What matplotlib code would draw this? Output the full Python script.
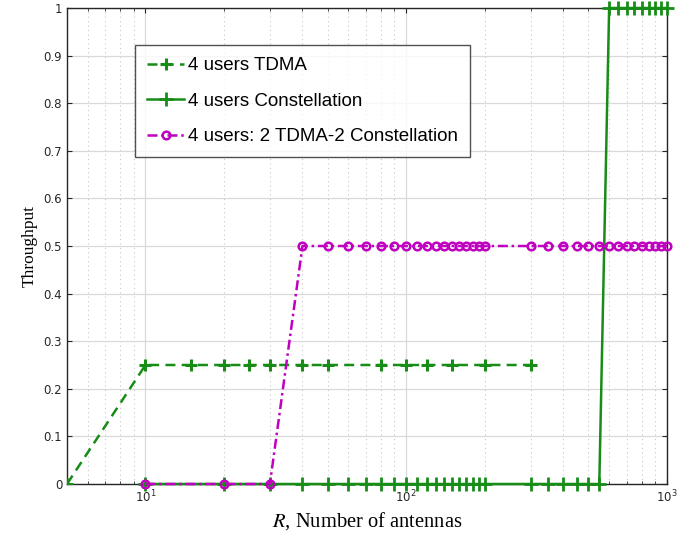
import numpy as np
import matplotlib
matplotlib.use("Agg")
import matplotlib.pyplot as plt
from matplotlib.ticker import LogLocator, NullFormatter

plt.rcParams['mathtext.fontset'] = 'stix'

# Data
tdma_x = [5, 10, 15, 20, 25, 30, 40, 50, 80, 100, 120, 150, 200, 300]
tdma_y = [0, 0.25, 0.25, 0.25, 0.25, 0.25, 0.25, 0.25, 0.25, 0.25, 0.25, 0.25, 0.25, 0.25]

const_x = [10, 20, 30, 40, 50, 60, 70, 80, 90, 100, 110, 120, 130, 140, 150, 160, 170, 180, 190, 200,
           300, 350, 400, 450, 500, 550, 600, 650, 700, 750, 800, 850, 900, 950, 1000]
const_y = [0]*26 + [1]*9

mix_x = [10, 20, 30, 40, 50, 60, 70, 80, 90, 100, 110, 120, 130, 140, 150, 160, 170, 180, 190, 200,
         300, 350, 400, 450, 500, 550, 600, 650, 700, 750, 800, 850, 900, 950, 1000]
mix_y = [0, 0, 0] + [0.5]*32

y_ticks = [0, 0.1, 0.2, 0.3, 0.4, 0.5, 0.6, 0.7, 0.8, 0.9, 1]
y_ticklabels = ['0', '0.1', '0.2', '0.3', '0.4', '0.5', '0.6', '0.7', '0.8', '0.9', '1']

labels = ["4 users TDMA", "4 users Constellation", "4 users: 2 TDMA-2 Constellation"]

green = '#178c17'
magenta = '#c000c0'

fig = plt.figure(figsize=(6.95, 5.37), dpi=100)
ax = fig.add_axes([0.0964, 0.0987, 0.8633, 0.8864])

ax.plot(tdma_x, tdma_y, linestyle=(0, (4, 2.5)), color=green, lw=1.8, marker='+',
        markersize=8, markeredgewidth=2.2, label=labels[0], zorder=3)
ax.plot(const_x, const_y, linestyle='-', color=green, lw=1.8, marker='+',
        markersize=9.5, markeredgewidth=2.0, label=labels[1], zorder=3, clip_on=False)
ax.plot(mix_x, mix_y, linestyle=(0, (4, 1.5, 1, 1.5)), color=magenta, lw=1.8, marker='o',
        markersize=5.5, markeredgewidth=1.8, markerfacecolor='none', label=labels[2], zorder=4,
        clip_on=False)

ax.set_xscale('log')
ax.set_xlim(5, 1000)
ax.set_ylim(0, 1)
ax.set_yticks(y_ticks)
ax.set_yticklabels(y_ticklabels)
ax.xaxis.set_minor_locator(LogLocator(base=10, subs=np.arange(2, 10)))
ax.xaxis.set_minor_formatter(NullFormatter())

ax.grid(True, which='major', color='#d9d9d9', lw=0.9, linestyle='-')
ax.grid(True, which='minor', axis='x', color='#c8c8c8', lw=0.8, linestyle=(0, (1, 3)))
ax.set_axisbelow(True)

for s in ax.spines.values():
    s.set_color('#262626')
    s.set_linewidth(1.0)
ax.tick_params(axis='both', which='both', direction='in', top=True, right=True,
               labelsize=8.5, colors='#262626')

ax.set_xlabel('$R$, Number of antennas', family='Liberation Serif', fontsize=14.8, labelpad=3)
ax.set_ylabel('Throughput', family='Liberation Serif', fontsize=12.5)

leg = ax.legend(loc='upper left', bbox_to_anchor=(0.113, 0.922),
                prop={'family': 'Liberation Sans', 'size': 13.5},
                frameon=True, fancybox=False, edgecolor='#262626', handlelength=2.0,
                handletextpad=0.2, borderpad=0.65, labelspacing=0.97, borderaxespad=0)
leg.get_frame().set_linewidth(1.0)

fig.savefig('out.png', dpi=100)
